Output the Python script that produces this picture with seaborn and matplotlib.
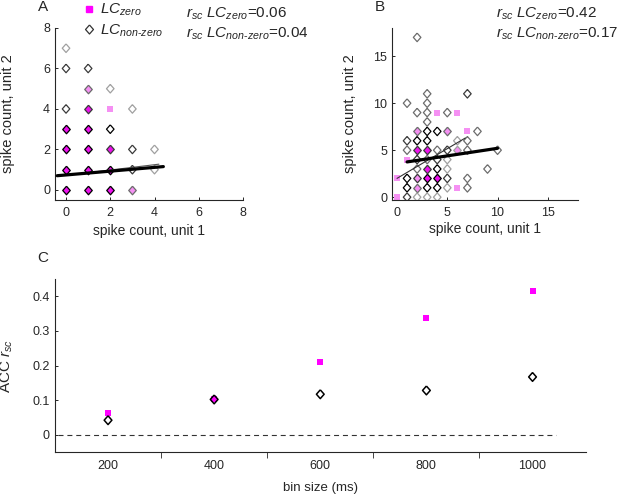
import matplotlib
matplotlib.use("Agg")
import matplotlib.pyplot as plt
import seaborn as sns
import pandas as pd
from matplotlib.lines import Line2D

# === DATA ===
# panel A: trials with LC non-zero (diamonds), outline shade = how many trials
a_nz_x = [0, 0, 1, 1, 2, 0, 1, 3, 0, 1, 2, 0, 1, 2, 3, 4, 0, 1, 2, 3, 4, 0, 1, 2, 3]
a_nz_y = [7, 6, 6, 5, 5, 4, 4, 4, 3, 3, 3, 2, 2, 2, 2, 2, 1, 1, 1, 1, 1, 0, 0, 0, 0]
a_nz_shade = ["l", "d", "d", "m", "l", "d", "d", "l", "k", "k", "k", "k", "k", "d", "d", "l",
              "k", "k", "k", "d", "l", "k", "k", "k", "m"]
# panel A: trials with LC zero (squares), fill = how many trials
a_z_x = [1, 1, 2, 0, 1, 0, 1, 2, 0, 1, 2, 0, 1, 2, 3]
a_z_y = [5, 4, 4, 3, 3, 2, 2, 2, 1, 1, 1, 0, 0, 0, 0]
a_z_fill = ["p", "s", "p", "s", "s", "s", "s", "s", "s", "s", "s", "s", "s", "s", "p"]
# panel A regression lines
a_fit_nz_x = [-0.4, 4.4]
a_fit_nz_y = [0.70, 1.15]
a_fit_z_x = [0.0, 4.2]
a_fit_z_y = [0.72, 1.27]

# panel B
b_nz_x = [1, 1, 1, 1, 1, 1,
          2, 2, 2, 2, 2, 2, 2, 2, 2, 2,
          3, 3, 3, 3, 3, 3, 3, 3, 3, 3, 3, 3,
          4, 4, 4, 4, 4, 4, 4,
          5, 5, 5, 5, 5, 5, 5,
          6, 6,
          7, 7, 7, 7, 7,
          8, 9, 10]
b_nz_y = [10, 6, 5, 2, 1, 0,
          17, 9, 7, 6, 5, 4, 3, 2, 1, 0,
          11, 10, 9, 8, 7, 6, 5, 4, 3, 2, 1, 0,
          7, 5, 4, 3, 2, 1, 0,
          9, 7, 5, 4, 3, 2, 1,
          6, 5,
          11, 6, 5, 2, 1,
          7, 3, 5]
b_nz_shade = ["m", "d", "m", "k", "k", "d",
              "m", "m", "m", "k", "d", "d", "m", "d", "m", "l",
              "m", "m", "m", "m", "k", "k", "d", "m", "d", "k", "k", "l",
              "k", "m", "d", "k", "k", "k", "l",
              "m", "m", "d", "l", "l", "d", "l",
              "l", "l",
              "d", "m", "m", "m", "m",
              "m", "m", "m"]
b_z_x = [0, 0, 1, 2, 2, 2, 2, 3, 3, 3, 4, 4, 5, 6, 6, 6, 7]
b_z_y = [2, 0, 4, 7, 5, 2, 1, 5, 3, 2, 2, 9, 7, 9, 5, 1, 7]
b_z_fill = ["p", "p", "p", "p", "s", "p", "p", "s", "s", "s", "s", "p", "p", "p", "p", "p", "p"]
b_fit_nz_x = [1.0, 10.0]
b_fit_nz_y = [3.75, 5.2]
b_fit_z_x = [0.0, 6.8]
b_fit_z_y = [2.0, 6.3]

# panel C: ACC r_sc vs bin size
bin_sizes = [200, 400, 600, 800, 1000]
rsc_zero = [0.062, 0.103, 0.211, 0.336, 0.416]
rsc_nonzero = [0.042, 0.102, 0.117, 0.128, 0.167]

# === STYLE ===
edge_colors = {"k": "#000000", "d": "#3a3a3a", "m": "#6c6c6c", "l": "#a0a0a0"}
fill_colors = {"s": "#ee12ee", "p": "#f590f3"}
magenta = "#ff00ff"
diamond = [(0, 1), (0.88, 0), (0, -1), (-0.88, 0), (0, 1)]

sns.set_style("ticks")
plt.rcParams["font.family"] = ["Liberation Sans", "DejaVu Sans"]
plt.rcParams["mathtext.fontset"] = "custom"
plt.rcParams["mathtext.rm"] = "Liberation Sans"
plt.rcParams["mathtext.it"] = "Liberation Sans:italic"
plt.rcParams["mathtext.bf"] = "Liberation Sans:bold"
plt.rcParams["axes.edgecolor"] = "#262626"
plt.rcParams["axes.linewidth"] = 0.8

fig = plt.figure(figsize=(6.17, 4.97), dpi=100)
ax_a = fig.add_axes([0.0891, 0.5976, 0.3047, 0.3461])
ax_b = fig.add_axes([0.6353, 0.5976, 0.3015, 0.3461])
ax_c = fig.add_axes([0.0891, 0.0905, 0.8600, 0.3481])


def draw_counts(ax, nz_x, nz_y, nz_shade, z_x, z_y, z_fill):
    nz = pd.DataFrame({"u1": nz_x, "u2": nz_y, "edge": [edge_colors[s] for s in nz_shade]})
    z = pd.DataFrame({"u1": z_x, "u2": z_y, "face": [fill_colors[f] for f in z_fill]})

    # zero-LC trials that share a count with a diamond colour its inside
    both = nz.merge(z, on=["u1", "u2"], how="left")
    both["face"] = both["face"].fillna("none")
    alone = z.merge(nz[["u1", "u2"]], on=["u1", "u2"], how="left", indicator=True)
    alone = alone[alone["_merge"] == "left_only"]

    for face, grp in alone.groupby("face"):
        sns.scatterplot(data=grp, x="u1", y="u2", marker="s", s=14, color=face,
                        linewidth=0, ax=ax, zorder=2)
    for (edge, face), grp in both.groupby(["edge", "face"]):
        sns.scatterplot(data=grp, x="u1", y="u2", marker=diamond, s=38, color=face,
                        edgecolor=edge, linewidth=0.9, ax=ax, zorder=3)


def style_counts(ax, xlim, ylim, ticks):
    ax.set_xlim(xlim)
    ax.set_ylim(ylim)
    ax.set_xticks(ticks)
    ax.set_yticks(ticks)
    ax.tick_params(direction="in", length=2.5, width=0.7, labelsize=9, colors="#262626")
    ax.tick_params(axis="x", pad=5)
    ax.tick_params(axis="y", pad=3.5)
    ax.set_xlabel("spike count, unit 1", fontsize=10)
    ax.set_ylabel("spike count, unit 2", fontsize=10.5)
    sns.despine(ax=ax)


# === PANEL A ===
draw_counts(ax_a, a_nz_x, a_nz_y, a_nz_shade, a_z_x, a_z_y, a_z_fill)
sns.lineplot(x=a_fit_z_x, y=a_fit_z_y, color="#555555", lw=0.8, ax=ax_a, zorder=4)
sns.lineplot(x=a_fit_nz_x, y=a_fit_nz_y, color="black", lw=2.3, ax=ax_a, zorder=5)
style_counts(ax_a, (-0.5, 8), (-0.5, 8), [0, 2, 4, 6, 8])
ax_a.xaxis.set_label_coords(0.5, -0.14)
ax_a.yaxis.set_label_coords(-0.215, 0.5)

handles = [
    Line2D([], [], marker="s", color=magenta, ls="none", markersize=4.2),
    Line2D([], [], marker=diamond, markerfacecolor="none", markeredgecolor="#333333",
           markeredgewidth=0.9, ls="none", markersize=6.5),
]
ax_a.legend(handles, [r"$LC_{zero}$", r"$LC_{non\text{-}zero}$"], loc="upper left",
            bbox_to_anchor=(83 / 617, 1 - 2 / 497), bbox_transform=fig.transFigure,
            frameon=False, fontsize=11, handlelength=0.8, handletextpad=0.3,
            borderpad=0, borderaxespad=0, labelspacing=0.25)

fig.text(186 / 617, 1 - 14 / 497, r"$r_{sc}$ $LC_{zero}$=0.06", fontsize=11, va="center")
fig.text(186 / 617, 1 - 34 / 497, r"$r_{sc}$ $LC_{non\text{-}zero}$=0.04", fontsize=11, va="center")

# === PANEL B ===
draw_counts(ax_b, b_nz_x, b_nz_y, b_nz_shade, b_z_x, b_z_y, b_z_fill)
sns.lineplot(x=b_fit_z_x, y=b_fit_z_y, color="#333333", lw=0.8, ax=ax_b, zorder=4)
sns.lineplot(x=b_fit_nz_x, y=b_fit_nz_y, color="black", lw=2.3, ax=ax_b, zorder=5)
style_counts(ax_b, (-0.5, 18), (-0.3, 18), [0, 5, 10, 15])
ax_b.xaxis.set_label_coords(0.5, -0.13)
ax_b.yaxis.set_label_coords(-0.19, 0.5)

fig.text(496 / 617, 1 - 14 / 497, r"$r_{sc}$ $LC_{zero}$=0.42", fontsize=11, va="center")
fig.text(496 / 617, 1 - 34 / 497, r"$r_{sc}$ $LC_{non\text{-}zero}$=0.17", fontsize=11, va="center")

# === PANEL C ===
ax_c.hlines(0, 105, 1045, colors="#333333", linestyles=(0, (4.5, 3.5)), lw=0.8, zorder=1)
sns.scatterplot(x=bin_sizes, y=rsc_zero, marker="s", s=18, color=magenta, linewidth=0,
                ax=ax_c, zorder=2)
sns.scatterplot(x=bin_sizes, y=rsc_nonzero, marker=diamond, s=40, color="none",
                edgecolor="black", linewidth=1.1, ax=ax_c, zorder=3)
ax_c.set_xlim(100, 1100)
ax_c.set_ylim(-0.05, 0.45)
ax_c.set_xticks(bin_sizes)
ax_c.set_xticks([300, 500, 700, 900], minor=True)
ax_c.set_yticks([0, 0.1, 0.2, 0.3, 0.4])
ax_c.set_yticklabels(["0", "0.1", "0.2", "0.3", "0.4"])
ax_c.tick_params(direction="in", labelsize=9, colors="#262626", width=0.7)
ax_c.tick_params(axis="x", which="major", length=0, pad=6)
ax_c.tick_params(axis="x", which="minor", length=4.5)
ax_c.tick_params(axis="y", length=2.5, pad=4)
ax_c.set_xlabel("bin size (ms)", fontsize=9.5)
ax_c.set_ylabel(r"ACC $r_{sc}$", fontsize=11)
ax_c.xaxis.set_label_coords(0.5, -0.172)
ax_c.yaxis.set_label_coords(-0.075, 0.5)
sns.despine(ax=ax_c)

# panel letters
fig.text(43 / 617, 1 - 7 / 497, "A", fontsize=11, ha="center", va="center")
fig.text(380 / 617, 1 - 7 / 497, "B", fontsize=11, ha="center", va="center")
fig.text(43 / 617, 1 - 258 / 497, "C", fontsize=11, ha="center", va="center")

fig.savefig("out.png", dpi=100)
